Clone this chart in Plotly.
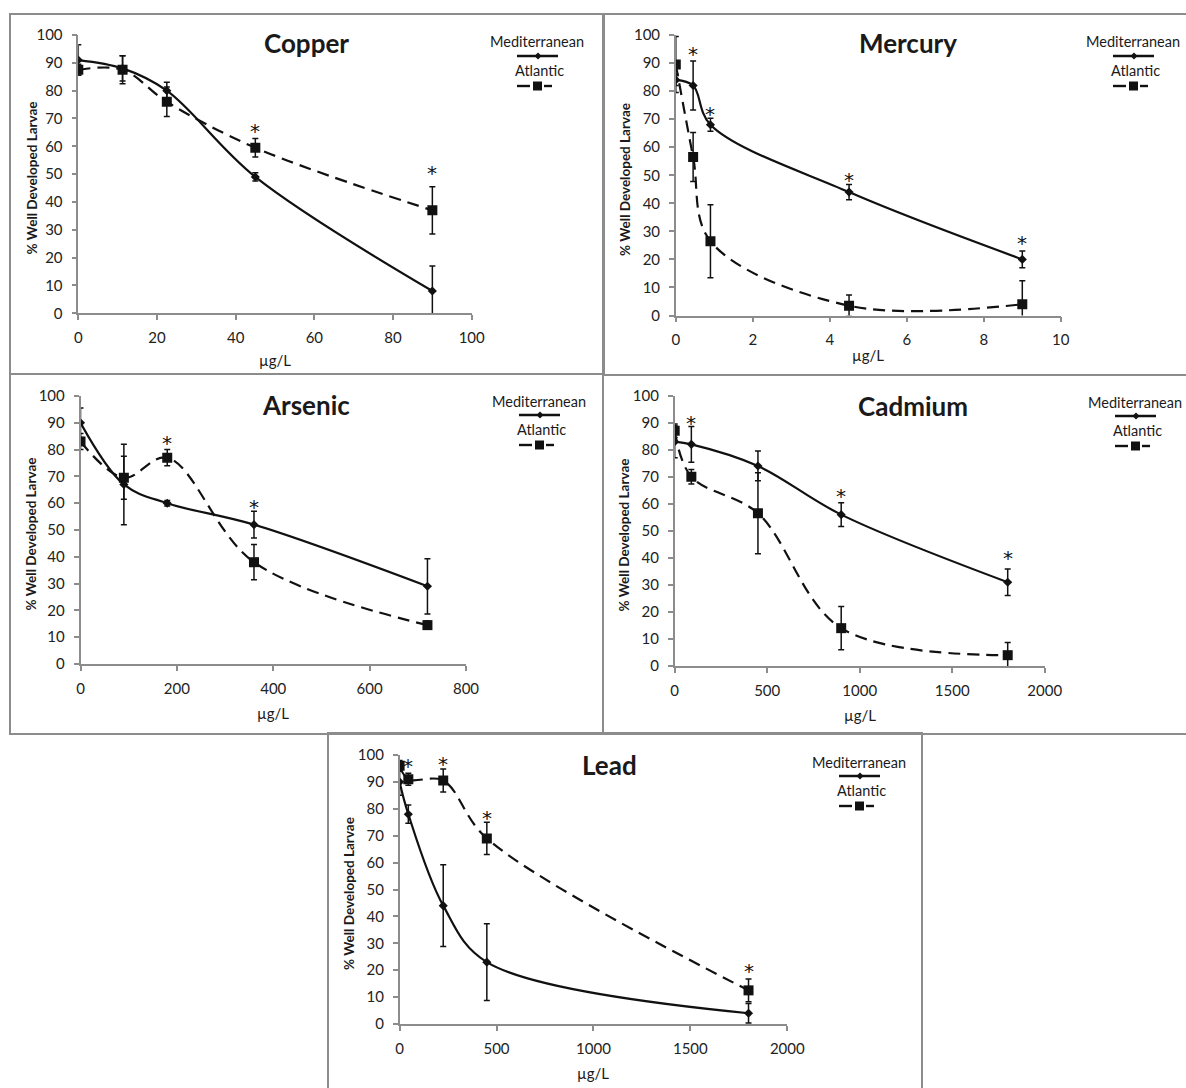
import plotly.graph_objects as go

W, H = 1186, 1088

# ---------------- data (µg/L, % well developed larvae) ----------------
cu_x = [0, 11.25, 22.5, 45, 90]
cu_med = [91, 88, 80, 49, 8]
cu_med_err = [5.5, 4.5, 3, 1.5, 9]
cu_atl = [87.5, 87.5, 76, 59.5, 37]
cu_atl_err = [2, 5, 5.3, 3.3, 8.5]
cu_star_x = [45, 90]
cu_star_y = [67.5, 52.5]

hg_x = [0, 0.45, 0.9, 4.5, 9]
hg_med = [84, 82, 68, 44, 20]
hg_med_err = [2, 8.7, 2.3, 2.7, 3]
hg_atl = [89.5, 56.5, 26.5, 3.5, 4]
hg_atl_err = [10, 8.7, 13, 3.8, 8.4]
hg_star_x = [0.45, 0.9, 4.5, 9]
hg_star_y = [95.2, 74, 50.5, 28]

as_x = [0, 90, 180, 360, 720]
as_med = [90, 67, 60, 52, 29]
as_med_err = [5.5, 15, 1, 5, 10.3]
as_atl = [83, 69.5, 77, 38, 14.5]
as_atl_err = [3, 8, 3, 6.6, 1.5]
as_star_x = [180, 360]
as_star_y = [84.7, 61]

cd_x = [0, 90, 450, 900, 1800]
cd_med = [83, 82, 74, 56, 31]
cd_med_err = [6, 6.6, 5.5, 4.4, 4.9]
cd_atl = [87, 70, 56.5, 14, 4]
cd_atl_err = [2.5, 2.7, 15, 8, 4.7]
cd_star_x = [90, 900, 1800]
cd_star_y = [92, 65, 42.3]

pb_x = [0, 45, 225, 450, 1800]
pb_med = [90, 78, 44, 23, 4]
pb_med_err = [5, 3.4, 15.2, 14.3, 3.6]
pb_atl = [96, 91, 90.5, 69, 12.5]
pb_atl_err = [2, 2.2, 4.3, 6, 4.2]
pb_star_x = [45, 225, 450, 1800]
pb_star_y = [98, 98.8, 78.7, 22]

metals = ["Copper", "Mercury", "Arsenic", "Cadmium", "Lead"]
x_max = [100, 10, 800, 2000, 2000]
x_step = [20, 2, 200, 500, 500]
y_ticks = list(range(0, 101, 10))

series = [
    (cu_x, cu_med, cu_med_err, cu_atl, cu_atl_err, cu_star_x, cu_star_y),
    (hg_x, hg_med, hg_med_err, hg_atl, hg_atl_err, hg_star_x, hg_star_y),
    (as_x, as_med, as_med_err, as_atl, as_atl_err, as_star_x, as_star_y),
    (cd_x, cd_med, cd_med_err, cd_atl, cd_atl_err, cd_star_x, cd_star_y),
    (pb_x, pb_med, pb_med_err, pb_atl, pb_atl_err, pb_star_x, pb_star_y),
]

# ---------------- page geometry (pixels) ----------------
# plot area: left, right, top, bottom
plot_px = [
    (78.3, 471.7, 35, 313.3),
    (675.8, 1060.8, 35, 315.5),
    (80.5, 466, 396, 664),
    (674.7, 1044.7, 395.7, 666),
    (399.6, 787.3, 755, 1024),
]
# panel frames: left, top, right, bottom
frame_px = [
    (10, 14, 603, 374),
    (604, 14, 1195, 375),
    (10, 374, 603, 734),
    (603, 375, 1195, 734),
    (328, 733, 922, 1095),
]
title_px = [(306, 43), (908, 43), (306, 405), (913, 406), (609, 765)]
legend_px = [(537, 42), (1133, 42), (539, 401), (1135, 402), (859, 762)]
xtitle_dy = [47, 40, 49, 49, 49]
ytitle_dx = [46, 51, 50, 51, 51]

INK = "#111111"
AXIS = "#8c8c8c"
FONT = "Lato, 'Open Sans', sans-serif"


def px(x):
    return x / W


def py(y):
    return 1 - y / H


def label(x, y, text, size, bold=False, angle=0):
    """Centered text placed in page pixels."""
    return dict(x=px(x), y=py(y), xref="paper", yref="paper",
                xanchor="center", yanchor="middle", showarrow=False,
                text="<b>%s</b>" % text if bold else text, textangle=angle,
                font=dict(family=FONT, size=size, color="#1a1a1a"))


def seg(x0, x1, y, width=2.4):
    return dict(type="line", xref="paper", yref="paper",
                x0=px(x0), x1=px(x1), y0=py(y), y1=py(y),
                line=dict(color=INK, width=width))


fig = go.Figure()
shapes = []
annotations = []

for i, name in enumerate(metals):
    xs, med, med_e, atl, atl_e, sx, sy = series[i]
    ax = "" if i == 0 else str(i + 1)
    xa, ya = "x" + ax, "y" + ax
    l, r, t, b = plot_px[i]

    fig.add_trace(go.Scatter(
        x=xs, y=atl, xaxis=xa, yaxis=ya, mode="lines+markers",
        line=dict(color=INK, width=2.2, dash="12px,7px", shape="spline", smoothing=1),
        marker=dict(symbol="square", size=10, color=INK),
        error_y=dict(type="data", array=atl_e, color=INK, thickness=1.5, width=3),
        showlegend=False, name="Atlantic"))
    fig.add_trace(go.Scatter(
        x=xs, y=med, xaxis=xa, yaxis=ya, mode="lines+markers",
        line=dict(color=INK, width=2.2, shape="spline", smoothing=1),
        marker=dict(symbol="diamond", size=7, color=INK),
        error_y=dict(type="data", array=med_e, color=INK, thickness=1.5, width=3),
        showlegend=False, name="Mediterranean"))

    # significance marks
    for s_x, s_y in zip(sx, sy):
        annotations.append(dict(
            x=s_x, y=s_y, xref=xa, yref=ya, text="*", showarrow=False,
            xanchor="center", yanchor="middle", yshift=-6,
            font=dict(family="DejaVu Sans", size=20, color="#111")))

    axis_common = dict(showgrid=False, zeroline=False, showline=True, linecolor=AXIS,
                       linewidth=1.5, ticks="outside", ticklen=5, tickcolor=AXIS,
                       tickwidth=1.5, automargin=False,
                       tickfont=dict(family=FONT, size=15, color="#222"))
    fig.update_layout({
        "xaxis" + ax: dict(domain=[px(l), px(r)], range=[0, x_max[i]], dtick=x_step[i],
                           tick0=0, anchor=ya, ticklabelstandoff=5, **axis_common),
        "yaxis" + ax: dict(domain=[py(b), py(t)], range=[0, 100], tickvals=y_ticks,
                           anchor=xa, ticklabelstandoff=6, **axis_common),
    })

    # axis titles
    annotations.append(label((l + r) / 2, b + xtitle_dy[i], "µg/L", 15))
    annotations.append(label(l - ytitle_dx[i], (t + b) / 2 + 4,
                             "% Well Developed Larvae", 13.5, bold=True, angle=-90))

    # panel title
    tx, ty = title_px[i]
    annotations.append(label(tx, ty, name, 26, bold=True))

    # legend block: name above its line sample
    lx, ly = legend_px[i]
    annotations.append(label(lx, ly, "Mediterranean", 14.5))
    annotations.append(label(lx + 2, ly + 28, "Atlantic", 14.5))
    shapes.append(seg(lx - 20, lx + 21, ly + 14))
    dx, dy = lx + 1, ly + 14
    shapes.append(dict(type="path", xref="paper", yref="paper",
                       path="M %f,%f L %f,%f L %f,%f L %f,%f Z" % (
                           px(dx - 3.5), py(dy), px(dx), py(dy - 3.5),
                           px(dx + 3.5), py(dy), px(dx), py(dy + 3.5)),
                       fillcolor=INK, line=dict(color=INK, width=0)))
    shapes.append(seg(lx - 20, lx - 7, ly + 44))
    shapes.append(seg(lx + 7, lx + 15, ly + 44))
    shapes.append(dict(type="rect", xref="paper", yref="paper",
                       x0=px(lx - 4), x1=px(lx + 5), y0=py(ly + 39.5), y1=py(ly + 48.5),
                       fillcolor=INK, line=dict(color=INK, width=0)))

    # panel frame
    fl, ft, fr, fb = frame_px[i]
    shapes.append(dict(type="rect", xref="paper", yref="paper",
                       x0=px(fl), x1=px(fr), y0=py(fb), y1=py(ft),
                       line=dict(color=AXIS, width=2), layer="below"))

fig.update_layout(
    width=W, height=H,
    margin=dict(l=0, r=0, t=0, b=0, autoexpand=False),
    paper_bgcolor="white", plot_bgcolor="white",
    shapes=shapes, annotations=annotations,
    showlegend=False,
)

fig.write_html("out.html")
